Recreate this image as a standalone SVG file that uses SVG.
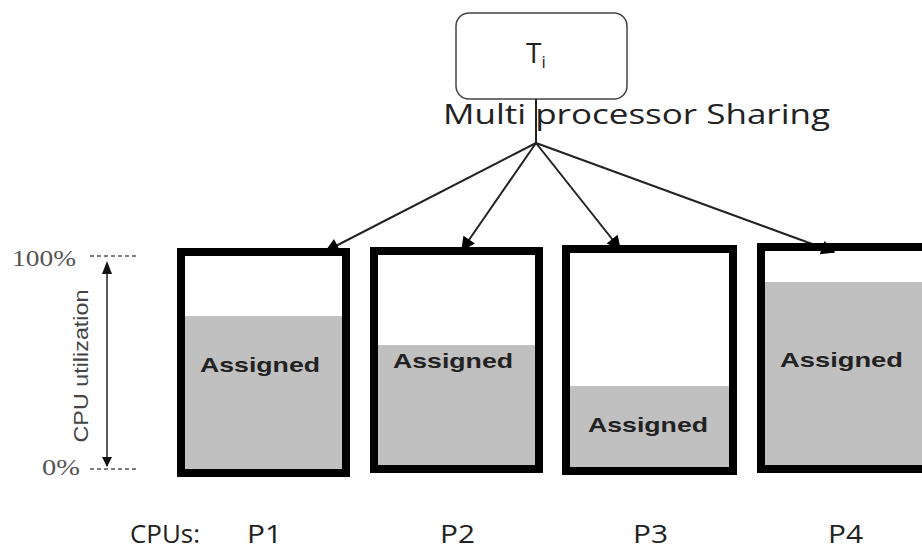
<svg xmlns="http://www.w3.org/2000/svg" width="922" height="552" viewBox="0 0 922 552">
<style>
.cal{font-family:"Open Sans","Liberation Sans",sans-serif;fill:#222}
.asg{font-family:"Liberation Sans",Arial,sans-serif;font-weight:bold;font-size:21px;fill:#222}
.ser{font-family:"Liberation Serif","Times New Roman",serif;fill:#555}
.box{fill:none;stroke:#000;stroke-width:8}
.fill{fill:#c0c0c0}
.conn{stroke:#222;stroke-width:2;fill:none}
.dash{stroke:#555;stroke-width:1.5;stroke-dasharray:4 3}
</style>
<defs>
<marker id="ah" viewBox="0 0 10 10" refX="9" refY="5" markerWidth="12" markerHeight="10" markerUnits="userSpaceOnUse" orient="auto">
<path d="M0,0 L10,5 L0,10 z" fill="#111"/>
</marker>
<marker id="big" viewBox="0 0 10 10" refX="9" refY="5" markerWidth="16" markerHeight="14" markerUnits="userSpaceOnUse" orient="auto">
<path d="M0,0 L10,5 L0,10 z" fill="#000"/>
</marker>
</defs>
<rect width="922" height="552" fill="#fff"/>

<g id="task">
<rect x="456" y="13" width="171" height="86" rx="13" fill="#fff" stroke="#444" stroke-width="1.5"/>
<text class="cal" x="526" y="63" font-size="28">T<tspan font-size="17" dy="5">i</tspan></text>
</g>

<text class="cal" x="443" y="124" font-size="27" textLength="387" lengthAdjust="spacingAndGlyphs">Multi processor Sharing</text>

<g id="connectors">
<line class="conn" x1="536" y1="99" x2="536" y2="143"/>
<line class="conn" x1="536" y1="143" x2="326" y2="251" marker-end="url(#big)"/>
<line class="conn" x1="536" y1="143" x2="462" y2="250" marker-end="url(#big)"/>
<line class="conn" x1="536" y1="143" x2="620" y2="249" marker-end="url(#big)"/>
<line class="conn" x1="536" y1="143" x2="834" y2="252" marker-end="url(#big)"/>
</g>

<g id="axis">
<line class="dash" x1="90" y1="256" x2="136" y2="256"/>
<line class="dash" x1="90" y1="469" x2="136" y2="469"/>
<line x1="107" y1="272" x2="107" y2="466" stroke="#222" stroke-width="1.5" marker-end="url(#ah)"/>
<path d="M107,261 L102,274 L112,274 z" fill="#111"/>
<text class="ser" x="12" y="266" font-size="23" textLength="64" lengthAdjust="spacingAndGlyphs">100%</text>
<text class="ser" x="42" y="475" font-size="23" textLength="38" lengthAdjust="spacingAndGlyphs">0%</text>
<text x="0" y="0" transform="translate(88,366) rotate(-90)" text-anchor="middle" font-family="Liberation Sans, Arial, sans-serif" font-size="21" fill="#444" textLength="153" lengthAdjust="spacingAndGlyphs">CPU utilization</text>
</g>

<g id="p1">
<rect class="fill" x="181" y="316" width="165" height="157"/>
<rect class="box" x="181" y="252" width="165" height="221"/>
<text class="asg" x="200" y="372" textLength="120" lengthAdjust="spacingAndGlyphs">Assigned</text>
</g>
<g id="p2">
<rect class="fill" x="374" y="345" width="165" height="124"/>
<rect class="box" x="374" y="251" width="165" height="218"/>
<text class="asg" x="393" y="368" textLength="120" lengthAdjust="spacingAndGlyphs">Assigned</text>
</g>
<g id="p3">
<rect class="fill" x="566" y="386" width="167" height="85"/>
<rect class="box" x="566" y="249" width="167" height="222"/>
<text class="asg" x="588" y="432" textLength="120" lengthAdjust="spacingAndGlyphs">Assigned</text>
</g>
<g id="p4">
<rect class="fill" x="761" y="282" width="200" height="187"/>
<rect class="box" x="761" y="247" width="200" height="222"/>
<text class="asg" x="780" y="367" textLength="123" lengthAdjust="spacingAndGlyphs">Assigned</text>
</g>

<g id="labels">
<text class="cal" x="130" y="543" font-size="25" textLength="70" lengthAdjust="spacingAndGlyphs">CPUs:</text>
<text class="cal" x="247" y="543" font-size="25" textLength="35" lengthAdjust="spacingAndGlyphs">P1</text>
<text class="cal" x="440" y="543" font-size="25" textLength="35" lengthAdjust="spacingAndGlyphs">P2</text>
<text class="cal" x="633" y="543" font-size="25" textLength="35" lengthAdjust="spacingAndGlyphs">P3</text>
<text class="cal" x="828" y="543" font-size="25" textLength="35" lengthAdjust="spacingAndGlyphs">P4</text>
</g>
</svg>
